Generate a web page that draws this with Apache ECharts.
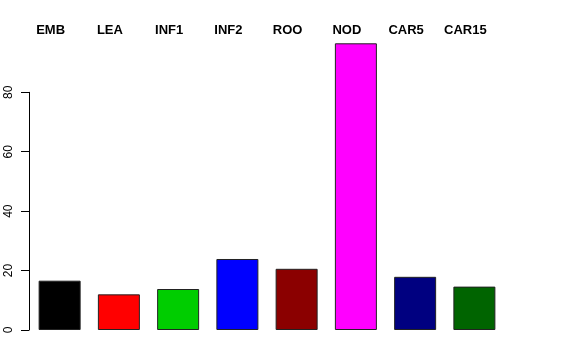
<!DOCTYPE html>
<html>
<head>
<meta charset="utf-8">
<script src="https://cdn.jsdelivr.net/npm/echarts@6/dist/echarts.min.js"></script>
<style>
html,body{margin:0;padding:0;background:#fff;}
#chart{width:576px;height:360px;}
</style>
</head>
<body>
<div id="chart"></div>
<script>
var categories = ['EMB', 'LEA', 'INF1', 'INF2', 'ROO', 'NOD', 'CAR5', 'CAR15'];
var values = [16.6, 12.0, 13.8, 23.9, 20.6, 96.5, 17.9, 14.6];
var barColors = ['#000000', '#FF0000', '#00CD00', '#0000FF', '#8B0000', '#FF00FF', '#000080', '#006400'];
var yTicks = [0, 20, 40, 60, 80];

var chart = echarts.init(document.getElementById('chart'), null, {renderer: 'canvas'});
var font = 'Liberation Sans, Arial, Helvetica, sans-serif';
chart.setOption({
  animation: false,
  backgroundColor: '#ffffff',
  grid: [
    {left: 30, width: 474, top: 32.9, bottom: 30},
    {left: 29, width: 474, top: 92.3, bottom: 30}
  ],
  xAxis: [
    {
      type: 'category', gridIndex: 0, position: 'top', data: categories,
      axisLine: {show: false}, axisTick: {show: false},
      axisLabel: {
        interval: 0, margin: -4.5, color: '#000', fontFamily: font,
        fontWeight: 'bold', fontSize: 13, padding: [0, 18, 0, 0]
      }
    },
    {type: 'category', gridIndex: 1, data: categories, show: false}
  ],
  yAxis: [
    {type: 'value', gridIndex: 0, min: 0, max: 100, show: false},
    {
      type: 'value', gridIndex: 1, min: 0, max: 80, interval: 20,
      axisLine: {show: true, lineStyle: {color: '#000', width: 1}},
      axisTick: {show: true, length: 8, lineStyle: {color: '#000'}},
      splitLine: {show: false},
      axisLabel: {
        rotate: 90, margin: 14, color: '#000', fontFamily: font, fontSize: 12,
        formatter: function (v) { return yTicks.indexOf(v) >= 0 ? String(v) : ''; }
      }
    }
  ],
  series: [{
    type: 'bar', xAxisIndex: 0, yAxisIndex: 0,
    barWidth: 42,
    data: values.map(function (v, i) {
      return {value: v, itemStyle: {color: barColors[i]}};
    }),
    itemStyle: {borderColor: '#222', borderWidth: 1}
  }]
});
</script>
</body>
</html>
